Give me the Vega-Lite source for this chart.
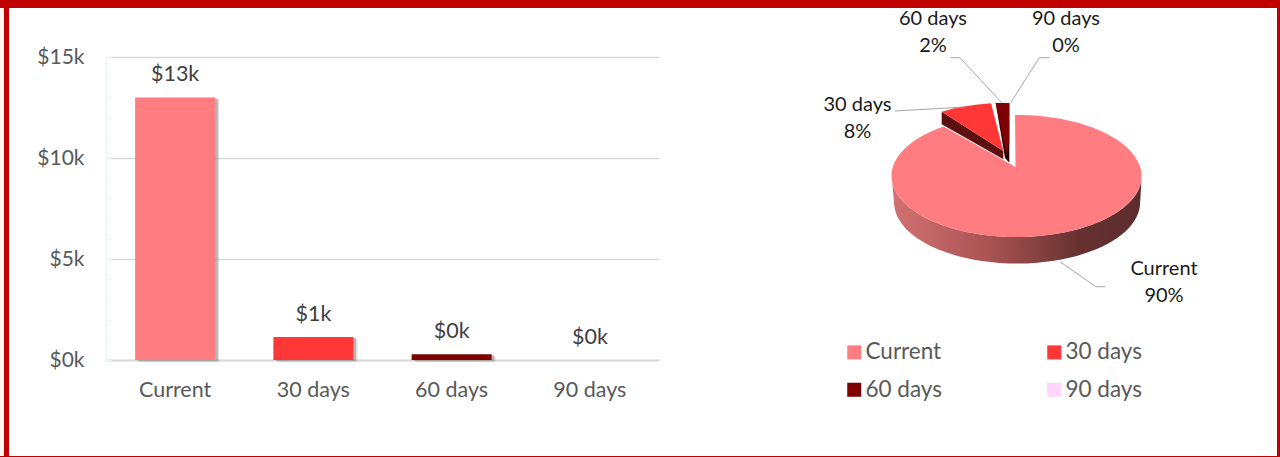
{
"$schema":"https://vega.github.io/schema/vega-lite/v6.json",
"background":"#c00000",
"padding":{"left":0,"top":8,"right":3,"bottom":1},
"bounds":"flush",
"spacing":0,
"config":{"font":"Lato","view":{"stroke":null},"concat":{"spacing":0}},
"data":{"values":[
{"bucket":"Current","value":13000,"share":90},
{"bucket":"30 days","value":1140,"share":8},
{"bucket":"60 days","value":290,"share":2},
{"bucket":"90 days","value":0,"share":0}]},
"resolve":{"scale":{"color":"independent","x":"independent","y":"independent"}},
"hconcat":[
{"width":4,"height":448,"view":{"fill":"#fff6f4","stroke":null},"mark":{"type":"point","size":1,"opacity":0},"encoding":{}},
{"width":5,"height":448,"view":{"fill":"#c00000","stroke":null},"mark":{"type":"point","size":1,"opacity":0},"encoding":{}},
{"width":751,"height":448,"view":{"fill":"#ffffff","stroke":null},
"transform":[{"calculate":"'$'+format(datum.value/1000,'.0f')+'k'","as":"label"}],
"encoding":{
"x":{"field":"bucket","type":"nominal","sort":["Current","30 days","60 days","90 days"],"title":null,
"scale":{"range":[97,650],"paddingInner":0.42,"paddingOuter":0.21},
"axis":{"offset":-96,"labelAngle":0,"ticks":false,"grid":false,"domainColor":"#d9d9d9","domainWidth":2,"labelColor":"#595959","labelFontSize":21.5,"labelPadding":19,"labelFont":"Lato"}},
"y":{"field":"value","type":"quantitative","title":null,
"scale":{"domain":[0,15000],"range":[352,49],"nice":false},
"axis":{"offset":-97,"values":[0,1000,2000,3000,4000,5000,6000,7000,8000,9000,10000,11000,12000,13000,14000,15000],
"labelExpr":"datum.value%5000===0?'$'+datum.value/1000+'k':''",
"labelColor":"#595959","labelFontSize":21,"labelPadding":27,"tickSize":-5,
"tickColor":"#eaf2fb","domainColor":"#eaf2fb","domainWidth":1.5,
"gridColor":{"condition":{"test":"datum.value%5000===0","value":"#d9d9d9"},"value":"transparent"},"gridWidth":1.5,"grid":true}}
},
"layer":[
{"mark":{"type":"bar","size":80,"xOffset":4,"yOffset":2,"color":"#8c8c8c","opacity":0.3}},
{"mark":{"type":"bar","size":80,"xOffset":2.5,"yOffset":1,"color":"#8c8c8c","opacity":0.5}},
{"mark":{"type":"bar","size":80},"encoding":{"color":{"field":"bucket","type":"nominal","legend":null,
"scale":{"domain":["Current","30 days","60 days","90 days"],"range":["#ff7c80","#ff3737","#7f0000","#ffd5ff"]}}}},
{"mark":{"type":"text","dy":-22,"fontSize":21.5,"color":"#404040","baseline":"middle"},"encoding":{"text":{"field":"label"}}}
]},
{"width":517,"height":448,"view":{"fill":"#ffffff","stroke":null},
"transform":[{"calculate":"datum.bucket+'\\n'+datum.share+'%'","as":"label"}],
"resolve":{"scale":{"shape":"independent"}},
"layer":[
{"transform":[{"filter":"datum.bucket==='Current'"}],
"mark":{"type":"point","filled":true,"opacity":1,"size":4,"yOffset":1,
"shape":"M-126.8,-57A125,61,0,0,0,123.2,-57L121.5,-28A123,61,0,0,1,-124.3,-28Z",
"fill":{"gradient":"linear","x1":0,"y1":0,"x2":1,"y2":0,"stops":[{"offset":0,"color":"#d27272"},{"offset":0.4,"color":"#a85252"},{"offset":0.75,"color":"#673131"},{"offset":1,"color":"#5c2c2c"}]}}},
{"transform":[{"filter":"datum.bucket==='30 days'"}],
"mark":{"type":"point","filled":true,"opacity":1,"size":4,"yOffset":1,"color":"#5c1010",
"shape":"M-76.8,-121.3L-76.8,-108.7L-15.2,-73.7L-15.2,-82Z"}},
{"transform":[{"filter":"datum.bucket==='60 days'"}],
"mark":{"type":"point","filled":true,"opacity":1,"size":4,"yOffset":1,"color":"#2e0000",
"shape":"M-22.8,-130L-9.2,-130L-9.2,-70.3L-13.5,-75Z"}},
{"mark":{"type":"point","filled":true,"opacity":1,"yOffset":1},
"encoding":{
"size":{"value":4},
"color":{"field":"bucket","type":"nominal",
"scale":{"domain":["Current","30 days","60 days","90 days"],"range":["#ff7c80","#ff3737","#7f0000","#ffd5ff"]},
"legend":{"orient":"none","legendX":83,"legendY":333,"title":null,"direction":"horizontal","columns":2,"symbolType":"square","symbolSize":196,"labelFontSize":22.5,"labelColor":"#595959","columnPadding":100,"rowPadding":14.5,"symbolStrokeWidth":0,"labelOffset":0}},
"shape":{"field":"bucket","type":"nominal","legend":null,
"scale":{"domain":["Current","30 days","60 days","90 days"],
"range":["M-3,-66L-3.5,-118A125,61,0,1,1,-75,-106.5Z","M-15.2,-82L-76.8,-121.3A125,61,0,0,1,-27.5,-129.7Z","M-22.8,-130L-9.2,-130L-9.2,-90L-12.5,-80.3Z","M0,0Z"]}}}},
{"mark":{"type":"point","filled":false,"opacity":1,"yOffset":1,"stroke":"#a6a6a6","strokeWidth":1},
"encoding":{
"size":{"value":4},
"shape":{"field":"bucket","type":"nominal","legend":null,
"scale":{"domain":["Current","30 days","60 days","90 days"],
"range":["M41.5,28.7L77.2,53.7L86.5,53.7","M-123.5,-122L-53.5,-126","M-68.5,-175.3L-58.5,-175.3L-16.8,-130.3","M31.5,-175.3L20.8,-175.3L-7.8,-130.3"]}}}},
{"transform":[{"filter":"datum.bucket==='Current'"}],"mark":{"type":"text","lineBreak":"\n","lineHeight":27,"fontSize":20,"color":"#1a1a1a","baseline":"middle","dx":145.5,"dy":37},"encoding":{"text":{"field":"label"}}},
{"transform":[{"filter":"datum.bucket==='30 days'"}],"mark":{"type":"text","lineBreak":"\n","lineHeight":27,"fontSize":20,"color":"#1a1a1a","baseline":"middle","dx":-161,"dy":-127},"encoding":{"text":{"field":"label"}}},
{"transform":[{"filter":"datum.bucket==='60 days'"}],"mark":{"type":"text","lineBreak":"\n","lineHeight":27,"fontSize":20,"color":"#1a1a1a","baseline":"middle","dx":-85.5,"dy":-213},"encoding":{"text":{"field":"label"}}},
{"transform":[{"filter":"datum.bucket==='90 days'"}],"mark":{"type":"text","lineBreak":"\n","lineHeight":27,"fontSize":20,"color":"#1a1a1a","baseline":"middle","dx":47.5,"dy":-213},"encoding":{"text":{"field":"label"}}}
]}
]
}
